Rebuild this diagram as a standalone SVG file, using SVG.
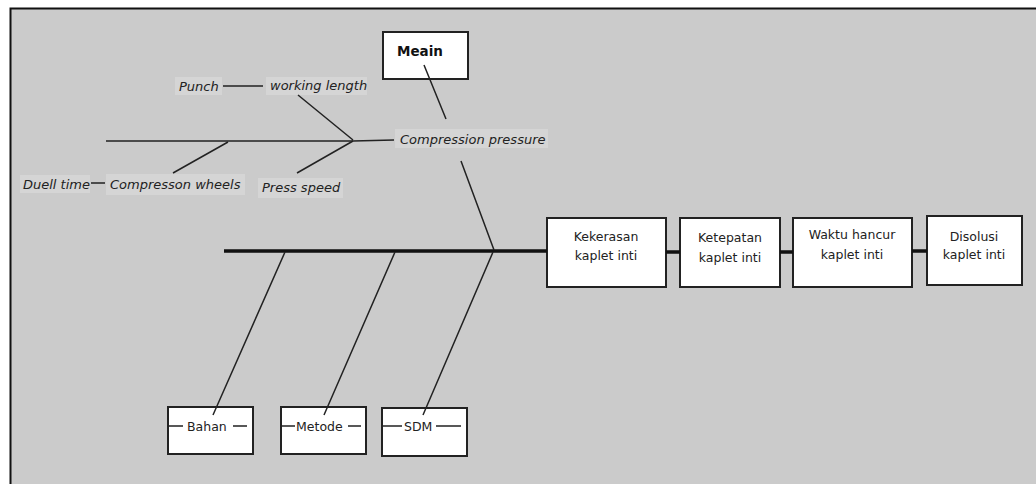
<svg xmlns="http://www.w3.org/2000/svg" width="1036" height="484" viewBox="0 0 1036 484">
<style>
.bg{fill:#cbcbcb}
.box{fill:#ffffff;stroke:#222;stroke-width:2}
.lbl{fill:#d5d5d5}
.it{font-family:"DejaVu Sans",Verdana,sans-serif;font-size:13px;font-style:italic;fill:#222}
.tx{font-family:"DejaVu Sans",Verdana,sans-serif;font-size:12.5px;fill:#222;text-anchor:middle}
.bt{font-family:"DejaVu Sans",Verdana,sans-serif;font-size:12.5px;fill:#222}
.ln{stroke:#222;stroke-width:1.5;fill:none}
.thk{stroke:#111;stroke-width:3.5;fill:none}
</style>
<rect x="0" y="0" width="1036" height="484" fill="#ffffff"/>
<rect class="bg" x="10" y="8" width="1026" height="476"/>
<path d="M10.5 484 V8.5 H1036" stroke="#111" stroke-width="2" fill="none"/>

<g id="meain">
<rect class="box" x="383" y="32" width="85" height="47"/>
<text x="397" y="56" font-family="'DejaVu Sans',Verdana,sans-serif" font-size="13.5" font-weight="bold" fill="#111">Meain</text>
</g>
<g id="compression-pressure">
<rect class="lbl" x="395" y="129" width="153" height="19"/>
<text class="it" x="400" y="144">Compression pressure</text>
</g>
<g id="punch">
<rect class="lbl" x="175" y="77" width="47" height="18"/>
<text class="it" x="179" y="91">Punch</text>
</g>
<g id="working-length">
<rect class="lbl" x="266" y="77" width="101" height="18"/>
<text class="it" x="270" y="90">working length</text>
</g>
<g id="duell-time">
<rect class="lbl" x="20" y="175" width="70" height="18"/>
<text class="it" x="23" y="189">Duell time</text>
</g>
<g id="compresson-wheels">
<rect class="lbl" x="106" y="174" width="139" height="21"/>
<text class="it" x="110" y="189">Compresson wheels</text>
</g>
<g id="press-speed">
<rect class="lbl" x="258" y="178" width="85" height="20"/>
<text class="it" x="262" y="192">Press speed</text>
</g>

<g id="kekerasan">
<rect class="box" x="547" y="218" width="119" height="69"/>
<text class="tx" x="606" y="241">Kekerasan</text>
<text class="tx" x="606" y="260">kaplet inti</text>
</g>
<g id="ketepatan">
<rect class="box" x="680" y="218" width="100" height="69"/>
<text class="tx" x="730" y="242">Ketepatan</text>
<text class="tx" x="730" y="262">kaplet inti</text>
</g>
<g id="waktu-hancur">
<rect class="box" x="793" y="218" width="119" height="69"/>
<text class="tx" x="852" y="239">Waktu hancur</text>
<text class="tx" x="852" y="259">kaplet inti</text>
</g>
<g id="disolusi">
<rect class="box" x="927" y="216" width="95" height="69"/>
<text class="tx" x="974" y="241">Disolusi</text>
<text class="tx" x="974" y="259">kaplet inti</text>
</g>

<g id="bahan">
<rect class="box" x="168" y="407" width="85" height="47"/>
<text class="bt" x="187" y="431">Bahan</text>
<path class="ln" d="M168 426 H183 M233 426 H247"/>
</g>
<g id="metode">
<rect class="box" x="281" y="407" width="85" height="47"/>
<text class="bt" x="296" y="431">Metode</text>
<path class="ln" d="M281 426 H295 M348 426 H361"/>
</g>
<g id="sdm">
<rect class="box" x="382" y="408" width="85" height="48"/>
<text class="bt" x="404" y="431">SDM</text>
<path class="ln" d="M382 426 H402 M436 426 H461"/>
</g>

<g id="connectors">
<path class="thk" d="M224 251 H547 M666 252 H680 M780 252 H793 M912 251 H927"/>
<path class="ln" d="M106 141 H353 L394 140"/>
<path class="ln" d="M298 95 L353 140 M297 173 L353 141 M173 173 L228 142"/>
<path class="ln" d="M223 86 H263 M91 183 H105"/>
<path class="ln" d="M424 65 L446 119 M461 161 L494 250"/>
<path class="ln" d="M285 252 L213 415 M395 252 L324 415 M493 252 L423 415"/>
</g>
</svg>
